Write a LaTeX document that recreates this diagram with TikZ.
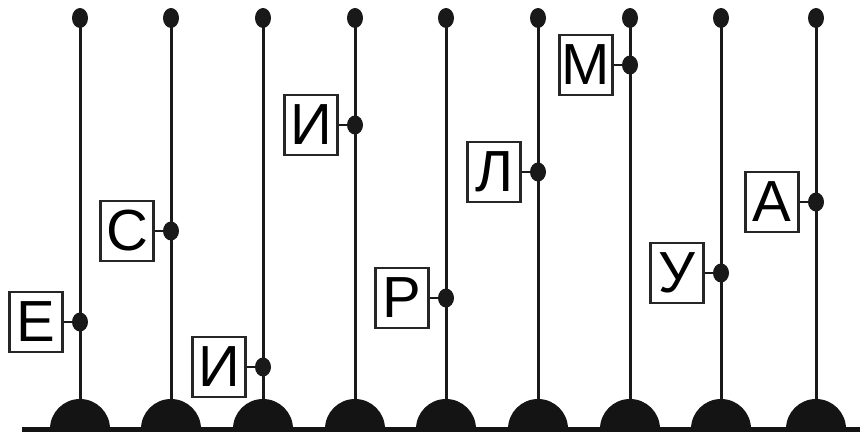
\documentclass[tikz,border=0pt]{standalone}
\usepackage{fontspec}
\setmainfont{Liberation Sans}
\tikzset{
  polestyle/.style={line width=3pt, black!90},
  linkstyle/.style={line width=2.5pt, black!90},
  labbox/.style={draw=black!85, line width=2.8pt, fill=white, minimum width=53pt, minimum height=60pt, inner sep=0pt, font=\fontsize{58}{58}\selectfont, anchor=east},
  dotstyle/.style={fill=black!90},
}
\begin{document}
\begin{tikzpicture}[x=1pt,y=1pt]
\useasboundingbox (0,0) rectangle (866,434);
\coordinate (L) at (22,5);
\coordinate (R) at (860,5);
\foreach \i/\px/\py/\t in {1/80/112/Е, 2/171/203/С, 3/263/67/И, 4/355/309/И, 5/446/136/Р, 6/538/262/Л, 7/630/369/М, 8/721/161/У, 9/816/232/А} {
  \coordinate (top\i) at (\px,416);
  \coordinate (m\i) at (\px,\py);
  \coordinate (base\i) at (\px,5);
  \draw[polestyle] (top\i) -- (base\i);
  \fill[dotstyle] (top\i) ellipse [x radius=8, y radius=10];
  \node[labbox] (b\i) at ([xshift=-16pt]m\i) {\t};
  \draw[linkstyle] (b\i.east) -- (m\i);
  \fill[dotstyle] (m\i) ellipse [x radius=8, y radius=9.5];
  \fill[black!92] ([xshift=-30pt]base\i) arc (180:0:30);
}
\draw[line width=5pt, black!92] (L) -- (R);
\end{tikzpicture}
\end{document}
